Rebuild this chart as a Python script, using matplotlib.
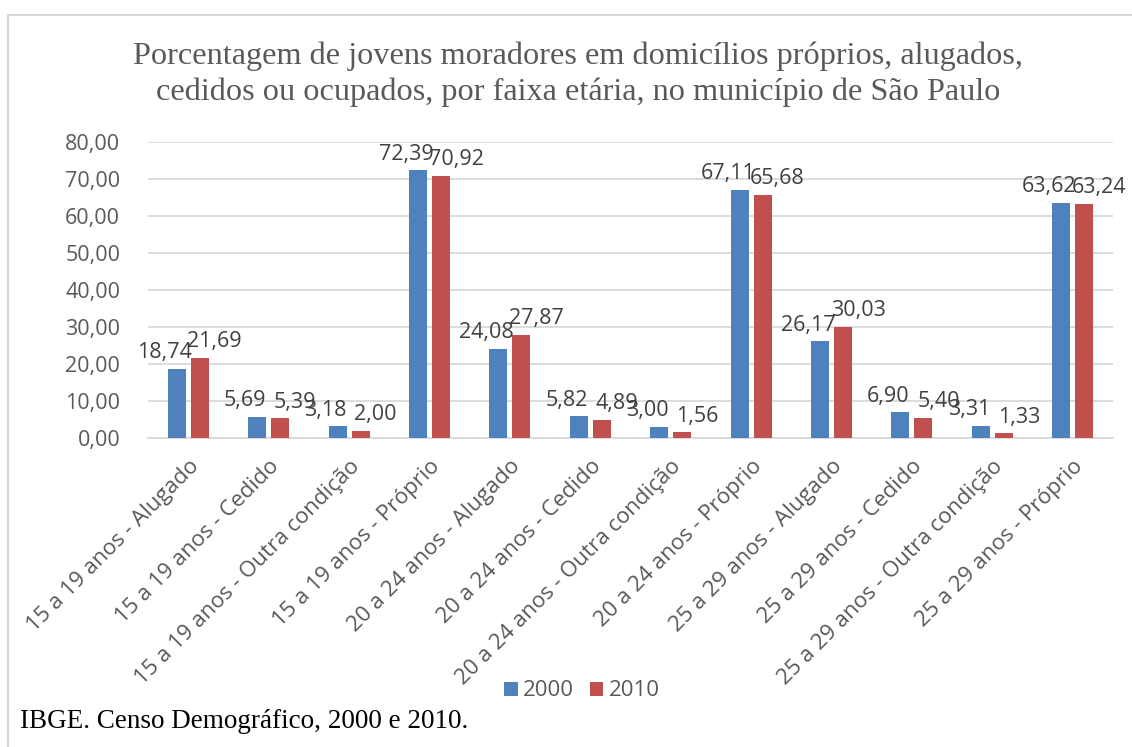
import matplotlib
matplotlib.use("Agg")
import matplotlib.pyplot as plt
import numpy as np
from matplotlib.patches import Patch
from matplotlib.lines import Line2D

categories = [
    "15 a 19 anos - Alugado", "15 a 19 anos - Cedido", "15 a 19 anos - Outra condição",
    "15 a 19 anos - Próprio", "20 a 24 anos - Alugado", "20 a 24 anos - Cedido",
    "20 a 24 anos - Outra condição", "20 a 24 anos - Próprio", "25 a 29 anos - Alugado",
    "25 a 29 anos - Cedido", "25 a 29 anos - Outra condição", "25 a 29 anos - Próprio",
]
values_2000 = [18.74, 5.69, 3.18, 72.39, 24.08, 5.82, 3.00, 67.11, 26.17, 6.90, 3.31, 63.62]
values_2010 = [21.69, 5.39, 2.00, 70.92, 27.87, 4.89, 1.56, 65.68, 30.03, 5.40, 1.33, 63.24]
series_names = ["2000", "2010"]
yticks = [0, 10, 20, 30, 40, 50, 60, 70, 80]
title = "Porcentagem de jovens moradores em domicílios próprios, alugados,\ncedidos ou ocupados, por faixa etária, no município de São Paulo"
source = "IBGE. Censo Demográfico, 2000 e 2010."

BLUE = "#4F81BD"
RED = "#C0504D"
GRID = "#D9D9D9"
TXT = "#595959"
LBL = "#404040"
SANS = "Open Sans"
SERIF = "Liberation Serif"

fig = plt.figure(figsize=(11.32, 7.47), dpi=100)
ax = fig.add_axes([148/1132, 1-438/747, (1113-148)/1132, (438-142)/747])

x = np.arange(len(categories))
w = 0.224
off = 0.143
b1 = ax.bar(x - off, values_2000, width=w, color=BLUE, zorder=3)
b2 = ax.bar(x + off, values_2010, width=w, color=RED, zorder=3)

def fmt(v):
    return f"{v:.2f}".replace(".", ",")

for bars, vals, dx in [(b1, values_2000, -12), (b2, values_2010, 15)]:
    for r, v in zip(bars, vals):
        ax.annotate(fmt(v), (r.get_x() + r.get_width()/2, v), xytext=(dx*0.72, 4),
                    textcoords="offset points", ha="center", va="bottom",
                    fontsize=15.5, family=SANS, color=LBL, zorder=4)

ax.set_xlim(-0.5, len(categories) - 0.5)
ax.set_ylim(0, 80)
ax.set_yticks(yticks)
ax.set_yticklabels([fmt(t) for t in yticks], fontsize=15.5, family=SANS, color=TXT)
ax.yaxis.grid(True, color=GRID, linewidth=1.3, zorder=0)
ax.set_axisbelow(True)
for s in ["top", "right", "left"]:
    ax.spines[s].set_visible(False)
ax.spines["bottom"].set_color(GRID)
ax.spines["bottom"].set_linewidth(1.3)
ax.tick_params(axis="y", length=0, pad=20)
ax.tick_params(axis="x", length=0, pad=13)
ax.set_xticks(x)
ax.set_xticklabels(categories, rotation=45, ha="right", rotation_mode="anchor",
                   fontsize=16, family=SANS, color=TXT)

fig.text(578/1132, 1 - 74/747, title, ha="center", va="center", fontsize=23.2,
         family=SERIF, color=TXT, linespacing=1.28)
fig.text(20/1132, 1 - 721/747, source, ha="left", va="center", fontsize=19.5,
         family=SERIF, color="black")

handles = [Patch(facecolor=BLUE), Patch(facecolor=RED)]
fig.legend(handles, series_names, loc="center", bbox_to_anchor=(582/1132, 1 - 691/747),
           ncol=2, frameon=False, prop={"family": SANS, "size": 16},
           handlelength=0.6, handleheight=0.6, handletextpad=0.25, columnspacing=0.7,
           labelcolor=TXT)

# chart border (left and top edges visible)
fig.add_artist(Line2D([8/1132, 8/1132], [0, 1 - 15/747], transform=fig.transFigure,
                      color=GRID, linewidth=1.5))
fig.add_artist(Line2D([8/1132, 1], [1 - 15/747, 1 - 15/747], transform=fig.transFigure,
                      color=GRID, linewidth=1.5))

fig.savefig("out.png", dpi=100, facecolor="white")
